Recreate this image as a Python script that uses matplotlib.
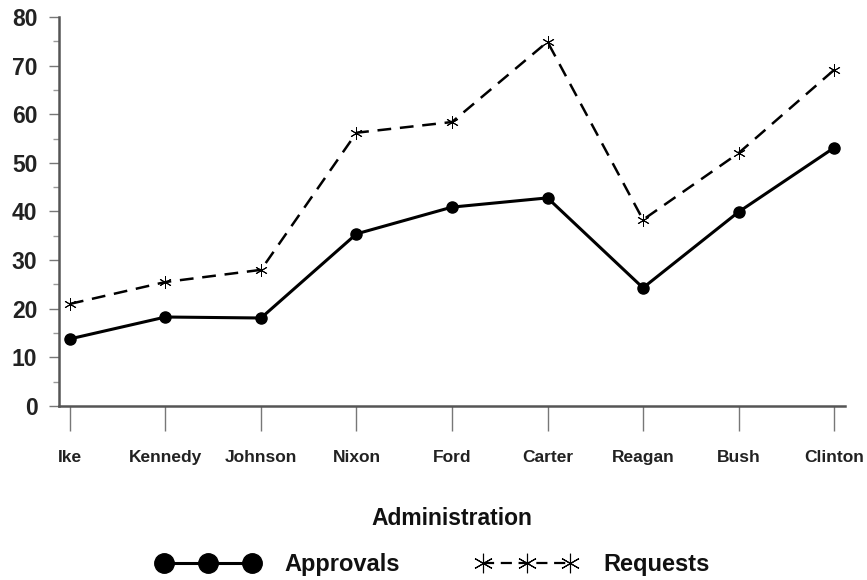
import matplotlib
matplotlib.use("Agg")
import matplotlib.pyplot as plt
from matplotlib.ticker import MultipleLocator
from matplotlib.lines import Line2D

administrations = ["Ike", "Kennedy", "Johnson", "Nixon", "Ford", "Carter", "Reagan", "Bush", "Clinton"]
approvals = [13.8, 18.3, 18.1, 35.4, 40.9, 42.8, 24.3, 39.9, 53.1]
requests = [21.0, 25.5, 28.0, 56.2, 58.4, 74.9, 38.3, 52.0, 69.1]

plt.rcParams['font.family'] = ['Liberation Sans', 'DejaVu Sans']

fig = plt.figure(figsize=(8.67, 5.8), dpi=100)
ax = fig.add_axes([59/867, 1-406/580, (845-59)/867, (406-17)/580])

x = list(range(len(administrations)))
ax.plot(x, approvals, color='black', lw=2.2, marker='o', ms=8, label='Approvals')
ax.plot(x, requests, color='black', lw=1.8, ls=(0, (5.5, 3.5)), marker=(6, 2, 0), ms=9,
        mew=0.7, label='Requests')

ax.set_xlim(-0.115, 8.115)
ax.set_ylim(0, 80)
ax.set_xticks(x)
ax.set_xticklabels(administrations, fontsize=12.5, fontweight='bold', color='#222222')
ax.yaxis.set_major_locator(MultipleLocator(10))
ax.yaxis.set_minor_locator(MultipleLocator(5))
for lab in ax.get_yticklabels():
    lab.set_fontsize(16.5)
    lab.set_fontweight('bold')
    lab.set_color('#222222')
ax.tick_params(axis='x', length=18, width=1.0, color='#777777', pad=14)
ax.tick_params(axis='y', which='major', length=7.5, width=1.0, color='#777777', pad=8)
ax.tick_params(axis='y', which='minor', length=4, width=1.0, color='#999999')
for s in ['top', 'right']:
    ax.spines[s].set_visible(False)
for s in ['left', 'bottom']:
    ax.spines[s].set_color('#555555')
    ax.spines[s].set_linewidth(1.8)

ax.set_xlabel('Administration', fontsize=16.5, fontweight='bold', labelpad=30, color='#111111')

h1 = Line2D([], [], color='black', lw=2.2, marker='o', ms=14)
h2 = Line2D([], [], color='black', lw=1.6, ls=(0, (5, 3)), marker=(6, 2, 0), ms=14, mew=0.8)
leg = fig.legend([h1, h2], ['Approvals', 'Requests'], loc='lower center',
                 bbox_to_anchor=(0.5, -0.03), ncol=2, frameon=False,
                 numpoints=3, handlelength=4.3, fontsize=17, columnspacing=3.2,
                 handletextpad=1.1)
for t in leg.get_texts():
    t.set_fontweight('bold')
    t.set_color('#111111')

fig.savefig('out.png', dpi=100)
